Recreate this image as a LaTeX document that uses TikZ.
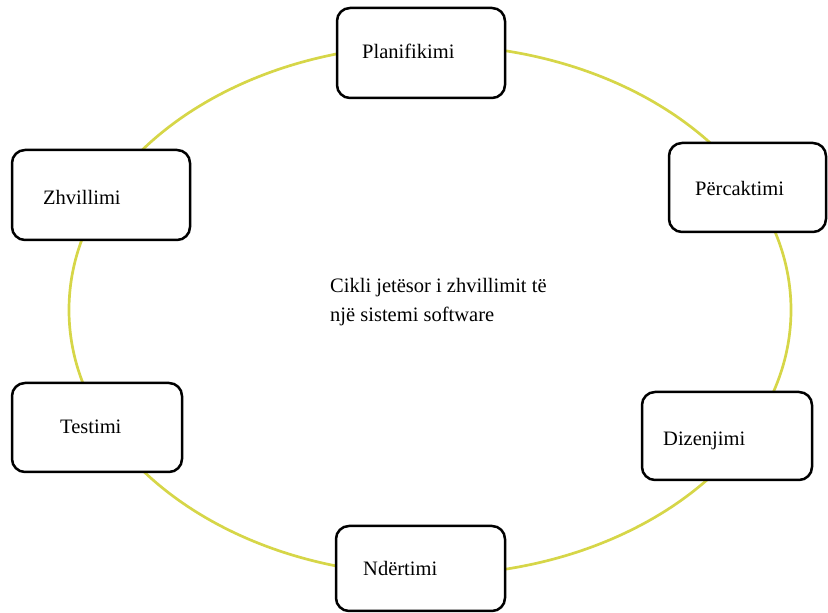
\documentclass[tikz,border=0pt]{standalone}
\usepackage{fontspec}
\setmainfont{Liberation Serif}
\usepackage{tikz}

\begin{document}
\begin{tikzpicture}[x=1pt, y=1pt,
    ring/.style={line width=2.7pt, draw={rgb,255:red,214;green,214;blue,72}},
    stagebox/.style={draw=black, line width=2.5pt, fill=white, rounded corners=13pt},
    stagetext/.style={anchor=base west, inner sep=0pt, font=\fontsize{20.5}{29}\selectfont}]
    \useasboundingbox (0,0) rectangle (828,613);
    % Draw the cycle
    \draw[ring] (430,303) ellipse [x radius=361pt, y radius=265pt];
    % Draw the stages
    \node[stagebox, minimum width=168pt, minimum height=90pt] (plan) at (421,560) {};
    \node[stagebox, minimum width=157pt, minimum height=89pt] (define) at (747.5,425.5) {};
    \node[stagebox, minimum width=170pt, minimum height=88pt] (design) at (727,177) {};
    \node[stagebox, minimum width=169pt, minimum height=85pt] (build) at (420.5,44.5) {};
    \node[stagebox, minimum width=170pt, minimum height=89pt] (test) at (97,185.5) {};
    \node[stagebox, minimum width=178pt, minimum height=90pt] (develop) at (101,418) {};
    % Stage names
    \node[stagetext] (plantext) at (362,554) {Planifikimi};
    \node[stagetext] (definetext) at (695,417) {Përcaktimi};
    \node[stagetext] (designtext) at (663,167) {Dizenjimi};
    \node[stagetext] (buildtext) at (363,37) {Ndërtimi};
    \node[stagetext] (testtext) at (60,179) {Testimi};
    \node[stagetext] (developtext) at (43,408) {Zhvillimi};
    % Title in the middle
    \node[stagetext, anchor=west, align=left] (title) at (330,310.5)
      {Cikli jetësor i zhvillimit të\\një sistemi software};
\end{tikzpicture}
\end{document}
